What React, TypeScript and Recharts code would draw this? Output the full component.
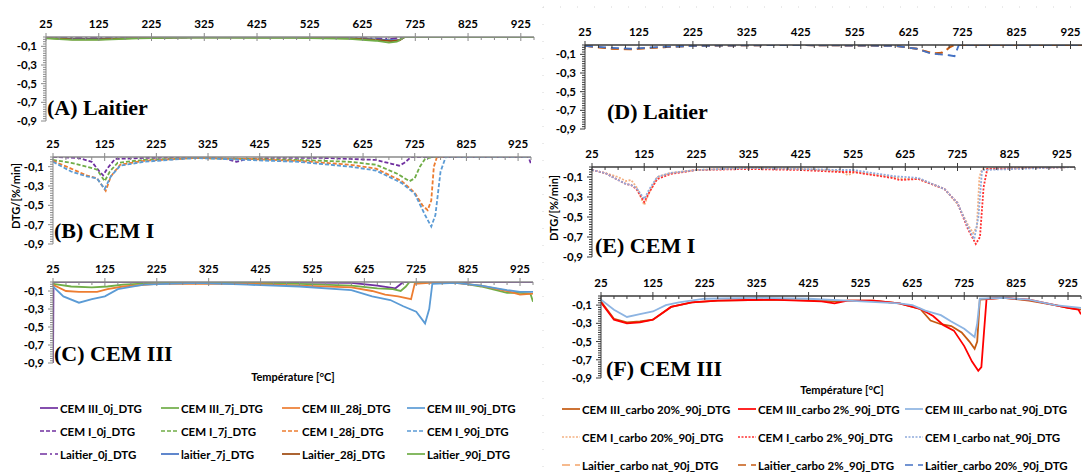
import { LineChart, Line, XAxis, YAxis } from "recharts";

type Pt = [number, number];

// temperature ticks (°C) and DTG ticks (%/min)
const TICKS_X = [25, 125, 225, 325, 425, 525, 625, 725, 825, 925];
const TICKS_Y = [-0.1, -0.3, -0.5, -0.7, -0.9];
const MINOR_X = Array.from({ length: 38 }, (_, i) => 25 + i * 25);
const MINOR_Y = Array.from({ length: 37 }, (_, i) => -i * 0.025);

// (A) Laitier
const laitier0j: Pt[] = [[25, -0.02], [27, -0.005], [100, -0.01], [200, -0.005], [400, 0], [600, -0.005], [650, -0.015], [680, -0.02], [700, 0], [950, 0]];
const laitier7j: Pt[] = [[25, -0.01], [75, -0.02], [125, -0.02], [200, -0.01], [300, -0.005], [500, -0.005], [600, -0.01], [650, -0.025], [680, -0.035], [695, -0.03], [705, 0], [950, 0]];
const laitier28j: Pt[] = [[25, -0.01], [75, -0.025], [125, -0.025], [200, -0.01], [300, -0.005], [500, -0.005], [600, -0.015], [650, -0.03], [680, -0.045], [695, -0.035], [705, 0], [950, 0]];
const laitier90j: Pt[] = [[25, -0.015], [75, -0.03], [125, -0.03], [200, -0.015], [300, -0.005], [500, -0.01], [600, -0.02], [650, -0.04], [675, -0.06], [690, -0.05], [705, 0], [950, 0]];

// (B) CEM I
const cemI0j: Pt[] = [[25, 0], [75, -0.01], [100, -0.05], [115, -0.15], [122, -0.19], [130, -0.12], [145, -0.02], [200, -0.01], [325, 0], [360, -0.02], [380, -0.05], [400, -0.02], [450, -0.01], [550, -0.01], [600, -0.02], [650, -0.03], [680, -0.07], [695, -0.09], [705, -0.06], [718, 0], [945, 0], [950, -0.07]];
const cemI7j: Pt[] = [[25, -0.03], [60, -0.06], [90, -0.1], [110, -0.13], [125, -0.25], [135, -0.15], [150, -0.06], [200, -0.03], [300, -0.01], [400, -0.02], [500, -0.03], [600, -0.05], [650, -0.08], [690, -0.17], [715, -0.25], [725, -0.22], [735, -0.1], [745, -0.02], [760, 0], [950, 0]];
const cemI28j: Pt[] = [[25, -0.04], [60, -0.12], [90, -0.19], [110, -0.22], [127, -0.35], [137, -0.2], [155, -0.08], [200, -0.04], [300, -0.01], [400, -0.02], [500, -0.04], [600, -0.08], [650, -0.12], [700, -0.25], [725, -0.37], [740, -0.5], [750, -0.55], [757, -0.45], [762, -0.1], [768, 0], [950, 0]];
const cemI90j: Pt[] = [[25, -0.05], [60, -0.15], [90, -0.2], [110, -0.22], [125, -0.33], [137, -0.2], [155, -0.09], [200, -0.05], [300, -0.01], [400, -0.03], [500, -0.05], [600, -0.1], [650, -0.14], [700, -0.27], [725, -0.38], [745, -0.6], [757, -0.72], [765, -0.6], [775, -0.15], [785, 0], [950, 0]];

// (C) CEM III
const cemIII0j: Pt[] = [[25, -0.95], [26, 0], [300, 0], [600, -0.01], [650, -0.04], [685, -0.07], [700, 0], [950, 0]];
const cemIII7j: Pt[] = [[25, -0.02], [60, -0.05], [100, -0.06], [130, -0.05], [160, -0.03], [225, -0.01], [400, -0.01], [500, -0.02], [600, -0.04], [650, -0.07], [680, -0.08], [695, -0.1], [705, -0.05], [712, 0], [800, 0], [850, -0.05], [900, -0.12], [925, -0.12], [945, -0.13], [950, -0.22]];
const cemIII28j: Pt[] = [[25, -0.03], [50, -0.1], [75, -0.11], [110, -0.11], [130, -0.08], [160, -0.05], [225, -0.02], [400, -0.02], [500, -0.04], [600, -0.06], [640, -0.1], [665, -0.14], [690, -0.16], [715, -0.19], [722, -0.02], [750, -0.01], [800, -0.01], [850, -0.04], [900, -0.1], [925, -0.14], [950, -0.13]];
const cemIII90j: Pt[] = [[25, -0.05], [45, -0.16], [75, -0.23], [100, -0.19], [125, -0.16], [150, -0.08], [200, -0.03], [300, -0.01], [400, -0.03], [500, -0.05], [600, -0.09], [640, -0.16], [675, -0.2], [700, -0.27], [725, -0.33], [742, -0.46], [750, -0.3], [756, -0.02], [800, -0.01], [850, -0.04], [900, -0.09], [925, -0.11], [950, -0.11]];

// (D) Laitier carbonaté
const laitierNat: Pt[] = [[25, -0.01], [75, -0.04], [110, -0.05], [150, -0.03], [225, -0.01], [400, 0], [600, -0.01], [640, -0.04], [665, -0.08], [680, -0.1], [695, -0.05], [705, 0], [950, 0]];
const laitier2: Pt[] = [[25, -0.01], [75, -0.04], [110, -0.045], [150, -0.03], [225, -0.01], [400, 0], [600, -0.01], [640, -0.04], [670, -0.09], [690, -0.08], [700, -0.03], [710, 0], [950, 0]];
const laitier20: Pt[] = [[25, -0.01], [75, -0.03], [110, -0.04], [150, -0.025], [225, -0.01], [400, 0], [600, -0.01], [640, -0.04], [665, -0.09], [700, -0.11], [710, -0.12], [718, 0], [950, 0]];

// (E) CEM I carbonaté
const cemI20: Pt[] = [[25, -0.03], [50, -0.06], [75, -0.1], [90, -0.14], [100, -0.13], [110, -0.2], [125, -0.38], [135, -0.25], [150, -0.1], [175, -0.06], [225, -0.03], [325, -0.01], [425, -0.02], [500, -0.04], [515, -0.08], [530, -0.05], [600, -0.1], [625, -0.12], [650, -0.12], [700, -0.22], [725, -0.37], [745, -0.58], [755, -0.66], [762, -0.6], [767, -0.1], [772, -0.02], [950, 0]];
const cemI2: Pt[] = [[25, -0.03], [50, -0.06], [75, -0.13], [90, -0.17], [100, -0.18], [110, -0.22], [125, -0.35], [135, -0.25], [150, -0.12], [175, -0.07], [225, -0.03], [325, -0.02], [425, -0.03], [500, -0.05], [525, -0.05], [600, -0.11], [615, -0.13], [650, -0.12], [700, -0.22], [725, -0.36], [745, -0.62], [760, -0.77], [768, -0.7], [775, -0.2], [782, -0.02], [950, 0]];
const cemINat: Pt[] = [[25, -0.03], [50, -0.06], [75, -0.13], [90, -0.17], [100, -0.18], [110, -0.21], [125, -0.32], [135, -0.22], [150, -0.1], [175, -0.06], [225, -0.03], [325, -0.01], [425, -0.02], [500, -0.03], [525, -0.03], [600, -0.09], [650, -0.11], [700, -0.22], [725, -0.36], [745, -0.6], [757, -0.72], [765, -0.5], [772, -0.03], [950, 0]];

// (F) CEM III carbonaté
const cemIII20: Pt[] = [[25, -0.06], [50, -0.25], [75, -0.29], [100, -0.28], [125, -0.26], [140, -0.2], [160, -0.12], [200, -0.07], [250, -0.05], [350, -0.04], [450, -0.05], [475, -0.06], [500, -0.05], [550, -0.05], [600, -0.08], [640, -0.14], [660, -0.27], [680, -0.31], [700, -0.33], [720, -0.4], [735, -0.5], [745, -0.58], [750, -0.5], [755, -0.04], [800, -0.02], [850, -0.05], [900, -0.1], [925, -0.13], [950, -0.15]];
const cemIII2: Pt[] = [[25, -0.07], [50, -0.26], [75, -0.3], [100, -0.29], [125, -0.26], [140, -0.2], [160, -0.12], [200, -0.07], [250, -0.05], [350, -0.04], [450, -0.06], [475, -0.08], [500, -0.05], [550, -0.05], [600, -0.08], [640, -0.14], [665, -0.22], [685, -0.32], [705, -0.38], [725, -0.55], [740, -0.72], [752, -0.82], [758, -0.78], [763, -0.4], [768, -0.03], [800, -0.02], [850, -0.04], [900, -0.1], [925, -0.13], [945, -0.15], [950, -0.2]];
const cemIIINat: Pt[] = [[25, -0.04], [50, -0.15], [75, -0.23], [100, -0.2], [125, -0.17], [150, -0.1], [175, -0.07], [225, -0.03], [325, -0.02], [425, -0.03], [500, -0.05], [600, -0.08], [625, -0.1], [650, -0.16], [680, -0.21], [700, -0.28], [725, -0.36], [745, -0.45], [750, -0.3], [755, -0.03], [800, -0.02], [850, -0.04], [900, -0.1], [950, -0.13]];

interface Ser { name: string; color: string; dash?: string; pts: Pt[] }

const PURPLE = "#7030A0";
const GREEN = "#70AD47";
const ORANGE = "#ED7D31";
const LBLUE = "#5B9BD5";
const BLUE = "#4472C4";

const serA: Ser[] = [
  { name: "Laitier_0j_DTG", color: PURPLE, dash: "7 3 2 3", pts: laitier0j },
  { name: "laitier_7j_DTG", color: BLUE, pts: laitier7j },
  { name: "Laitier_28j_DTG", color: "#9E480E", pts: laitier28j },
  { name: "Laitier_90j_DTG", color: GREEN, pts: laitier90j },
];
const serB: Ser[] = [
  { name: "CEM I_0j_DTG", color: PURPLE, dash: "4 2", pts: cemI0j },
  { name: "CEM I_7j_DTG", color: GREEN, dash: "4 2", pts: cemI7j },
  { name: "CEM I_28j_DTG", color: ORANGE, dash: "4 2", pts: cemI28j },
  { name: "CEM I_90j_DTG", color: LBLUE, dash: "4 2", pts: cemI90j },
];
const serC: Ser[] = [
  { name: "CEM III_0j_DTG", color: PURPLE, pts: cemIII0j },
  { name: "CEM III_7j_DTG", color: GREEN, pts: cemIII7j },
  { name: "CEM III_28j_DTG", color: ORANGE, pts: cemIII28j },
  { name: "CEM III_90j_DTG", color: LBLUE, pts: cemIII90j },
];
const serD: Ser[] = [
  { name: "Laitier_carbo nat_90j_DTG", color: "#F4A46A", dash: "8 5", pts: laitierNat },
  { name: "Laitier_carbo 2%_90j_DTG", color: "#C55A11", dash: "8 5", pts: laitier2 },
  { name: "Laitier_carbo 20%_90j_DTG", color: BLUE, dash: "8 5", pts: laitier20 },
];
const serE: Ser[] = [
  { name: "CEM I_carbo 20%_90j_DTG", color: "#F4B183", dash: "2 1.5", pts: cemI20 },
  { name: "CEM I_carbo 2%_90j_DTG", color: "#FF3030", dash: "2 1.5", pts: cemI2 },
  { name: "CEM I_carbo nat_90j_DTG", color: "#8FAADC", dash: "2 1.5", pts: cemINat },
];
const serF: Ser[] = [
  { name: "CEM III_carbo 20%_90j_DTG", color: "#C55A11", pts: cemIII20 },
  { name: "CEM III_carbo 2%_90j_DTG", color: "#FF0000", pts: cemIII2 },
  { name: "CEM III_carbo nat_90j_DTG", color: "#8DB4E2", pts: cemIIINat },
];

const SANS = "Lato, 'Open Sans', sans-serif";
const SERIF = "'Liberation Serif', 'DejaVu Serif', serif";
const fmt = (v: number) => v.toFixed(1).replace(".", ",");
const isMajor = (list: number[], v: number) => list.some((t) => Math.abs(t - v) < 1e-6);

const YW = 44;
const XH = 30;
const MB = 9;
const TS = 5;
const TM = 4;

// Excel-like ticks: labelled major ticks crossing the axis, short minor ticks
function XTick(props: any) {
  const { x, y, payload, col } = props;
  const v = payload.value as number;
  const ay = y + TS + TM;
  const major = isMajor(TICKS_X, v);
  return (
    <g>
      <line x1={x} x2={x} y1={major ? ay - 4 : ay} y2={major ? ay + 4 : ay + 3} stroke={col} />
      {major && (
        <text x={x} y={ay - 9} textAnchor="middle" fill="#000" fontSize={11.5} fontWeight={700} fontFamily={SANS}>
          {v}
        </text>
      )}
    </g>
  );
}

function YTick(props: any) {
  const { x, y, payload, col } = props;
  const v = payload.value as number;
  const ax = x + TS + TM;
  const major = isMajor(TICKS_Y, v);
  return (
    <g>
      <line x1={ax - (major ? 5 : 3)} x2={ax} y1={y} y2={y} stroke={col} />
      {major && (
        <text x={ax - 9} y={y} dy="0.35em" textAnchor="end" fill="#000" fontSize={11.5} fontWeight={700} fontFamily={SANS}>
          {fmt(v)}
        </text>
      )}
    </g>
  );
}

function Panel(p: { l: number; r: number; t: number; b: number; lines: Ser[]; dark?: boolean }) {
  const axisCol = p.dark ? "#3a3a3a" : "#8a8a8a";
  const frameCol = p.dark ? "#3a3a3a" : "#bdbdbd";
  const width = YW + (p.r - p.l) + 1;
  const height = XH + (p.b - p.t) + MB;
  return (
    <div style={{ position: "absolute", left: p.l - YW, top: p.t - XH }}>
      <LineChart width={width} height={height} margin={{ top: 0, right: 1, bottom: MB, left: 0 }}>
        <XAxis xAxisId="main" dataKey="t" orientation="top" type="number" domain={[25, 950]} ticks={MINOR_X}
          interval={0} height={XH} tickSize={TS} tickMargin={TM} tickLine={false}
          tick={<XTick col={axisCol} />} axisLine={{ stroke: axisCol, strokeWidth: 1.5 }} allowDataOverflow />
        <XAxis xAxisId="frame" orientation="bottom" type="number" domain={[25, 950]} height={0}
          tick={false} tickLine={false} axisLine={{ stroke: frameCol }} />
        <YAxis yAxisId="main" type="number" domain={[-0.9, 0]} ticks={MINOR_Y} interval={0} width={YW}
          tickSize={TS} tickMargin={TM} tickLine={false} tick={<YTick col={axisCol} />}
          axisLine={{ stroke: axisCol }} allowDataOverflow />
        <YAxis yAxisId="frame" orientation="right" type="number" domain={[-0.9, 0]} width={0}
          tick={false} tickLine={false} axisLine={{ stroke: frameCol }} />
        {p.lines.map((s) => (
          <Line key={s.name} xAxisId="main" yAxisId="main" data={s.pts.map(([t, v]) => ({ t, v }))}
            dataKey="v" name={s.name} stroke={s.color} strokeWidth={1.8} strokeDasharray={s.dash}
            dot={false} isAnimationActive={false} />
        ))}
      </LineChart>
    </div>
  );
}

function Title({ x, y, text }: { x: number; y: number; text: string }) {
  return (
    <div style={{ position: "absolute", left: x, top: y - 13, fontFamily: SERIF, fontWeight: 700, fontSize: 22, lineHeight: "26px", whiteSpace: "nowrap" }}>
      {text}
    </div>
  );
}

function Sample({ color, dash }: { color: string; dash?: string }) {
  return (
    <svg width={18} height={6} style={{ marginRight: 2, flex: "none" }}>
      <line x1={0} y1={3} x2={18} y2={3} stroke={color} strokeWidth={1.7} strokeDasharray={dash} />
    </svg>
  );
}

function LegendItem({ x, y, s }: { x: number; y: number; s: Ser }) {
  return (
    <div style={{ position: "absolute", left: x, top: y - 8, height: 16, display: "flex", alignItems: "center",
      fontFamily: SANS, fontWeight: 700, fontSize: 11.5, whiteSpace: "nowrap" }}>
      <Sample color={s.color} dash={s.dash} />
      {s.name}
    </div>
  );
}

const LEFT_COLS = [40, 161, 282, 407];
const LEFT_ROWS = [408, 431, 454];
const RIGHT_COLS = [562, 738, 905];
const RIGHT_ROWS = [409, 437, 465];

const labelStyle = { position: "absolute" as const, fontFamily: SANS, fontWeight: 700, fontSize: 11, whiteSpace: "nowrap" as const };

export default function App() {
  const leftRows = [serC, serB, serA];
  const rightRows = [serF, serE, serD];
  return (
    <div style={{ position: "absolute", left: 0, top: 0, width: 1082, height: 475, overflow: "hidden", background: "#fff" }}>
      <svg width={1082} height={475} style={{ position: "absolute", left: 0, top: 0 }}>
        <line x1={543} y1={7} x2={1082} y2={7} stroke="#d6d6d6" strokeDasharray="1 16" />
        <line x1={543} y1={7} x2={543} y2={475} stroke="#d6d6d6" strokeDasharray="1 16" />
      </svg>

      <Panel l={46} r={534} t={37} b={121} lines={serA} />
      <Panel l={53} r={531} t={157} b={244} lines={serB} />
      <Panel l={53} r={533} t={282} b={363} lines={serC} />
      <Panel l={585} r={1084} t={45} b={129} lines={serD} dark />
      <Panel l={592} r={1075} t={167} b={257} lines={serE} dark />
      <Panel l={601} r={1081} t={296} b={378} lines={serF} dark />

      <Title x={47} y={108} text="(A) Laitier" />
      <Title x={54} y={231} text="(B) CEM I" />
      <Title x={54} y={354} text="(C) CEM III" />
      <Title x={607} y={112} text="(D) Laitier" />
      <Title x={595} y={246} text="(E) CEM I" />
      <Title x={606} y={369} text="(F) CEM III" />

      <div style={{ ...labelStyle, left: 15, top: 196, transform: "translate(-50%,-50%) rotate(-90deg)" }}>DTG/[%/min]</div>
      <div style={{ ...labelStyle, left: 553, top: 208, transform: "translate(-50%,-50%) rotate(-90deg)" }}>DTG/[%/min]</div>
      <div style={{ ...labelStyle, left: 293, top: 376, transform: "translate(-50%,-50%)" }}>Température [°C]</div>
      <div style={{ ...labelStyle, left: 842, top: 389, transform: "translate(-50%,-50%)" }}>Température [°C]</div>

      {leftRows.map((row, ri) => row.map((s, ci) => <LegendItem key={s.name} x={LEFT_COLS[ci]} y={LEFT_ROWS[ri]} s={s} />))}
      {rightRows.map((row, ri) => row.map((s, ci) => <LegendItem key={s.name} x={RIGHT_COLS[ci]} y={RIGHT_ROWS[ri]} s={s} />))}
    </div>
  );
}
